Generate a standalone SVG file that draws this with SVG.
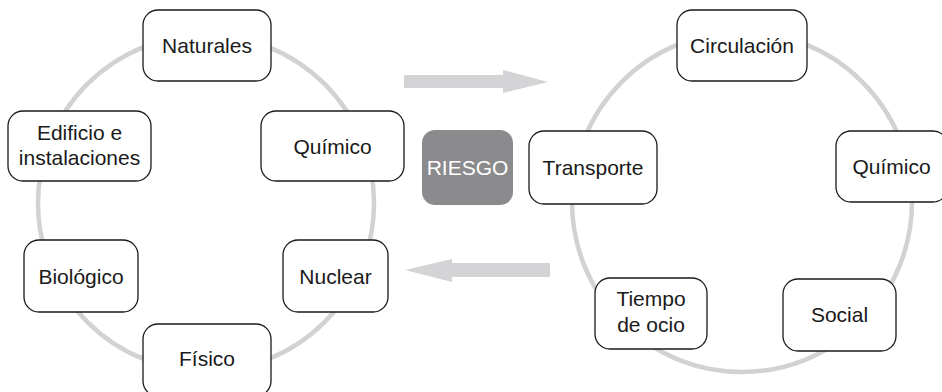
<svg xmlns="http://www.w3.org/2000/svg" width="942" height="392" viewBox="0 0 942 392">
<style>
.ring{fill:none;stroke:#d2d2d4;stroke-width:4.5}
.box{fill:#ffffff;stroke:#1a1a1a;stroke-width:1.3}
.t{font-family:"Liberation Sans",Arial,sans-serif;font-size:21px;fill:#1a1a1a;text-anchor:middle}
.arr{fill:#d4d4d6}
</style>
<rect width="942" height="392" fill="#ffffff"/>
<g id="connectors">
<circle class="ring" cx="206" cy="203" r="168"/>
<circle class="ring" cx="742" cy="202" r="170"/>
<path class="arr" d="M404 75 H503 V70 L548 82 L503 93 V88 H404 Z"/>
<path class="arr" d="M550 263 H452 V259 L405 270 L452 282 V277 H550 Z"/>
</g>
<g id="riesgo">
<rect x="422" y="130" width="91" height="75" rx="13" fill="#8b8b8d"/>
<text x="467.5" y="175" class="t" style="fill:#ffffff">RIESGO</text>
</g>
<g id="naturales">
<rect class="box" x="143" y="10" width="128" height="71" rx="15"/>
<text class="t" x="207" y="53">Naturales</text>
</g>
<g id="edificio">
<rect class="box" x="8" y="111" width="143" height="70" rx="15"/>
<text class="t" x="79.5" y="140">Edificio e</text>
<text class="t" x="79.5" y="165">instalaciones</text>
</g>
<g id="quimico-left">
<rect class="box" x="261" y="111" width="143" height="70" rx="15"/>
<text class="t" x="332.5" y="154">Químico</text>
</g>
<g id="biologico">
<rect class="box" x="24" y="240" width="114" height="72" rx="15"/>
<text class="t" x="81" y="283.5">Biológico</text>
</g>
<g id="nuclear">
<rect class="box" x="283" y="240" width="105" height="72" rx="15"/>
<text class="t" x="335.5" y="283.5">Nuclear</text>
</g>
<g id="fisico">
<rect class="box" x="143" y="324" width="128" height="72" rx="15"/>
<text class="t" x="207" y="366">Físico</text>
</g>
<g id="circulacion">
<rect class="box" x="677" y="10" width="130" height="71" rx="15"/>
<text class="t" x="742" y="53">Circulación</text>
</g>
<g id="transporte">
<rect class="box" x="529" y="131" width="128" height="73" rx="15"/>
<text class="t" x="593" y="175">Transporte</text>
</g>
<g id="quimico-right">
<rect class="box" x="836" y="131" width="112" height="71" rx="15"/>
<text class="t" x="891.5" y="174">Químico</text>
</g>
<g id="tiempo">
<rect class="box" x="595" y="278" width="112" height="71" rx="15"/>
<text class="t" x="651" y="306">Tiempo</text>
<text class="t" x="651" y="332">de ocio</text>
</g>
<g id="social">
<rect class="box" x="783" y="279" width="113" height="72" rx="15"/>
<text class="t" x="839.5" y="322">Social</text>
</g>
</svg>
